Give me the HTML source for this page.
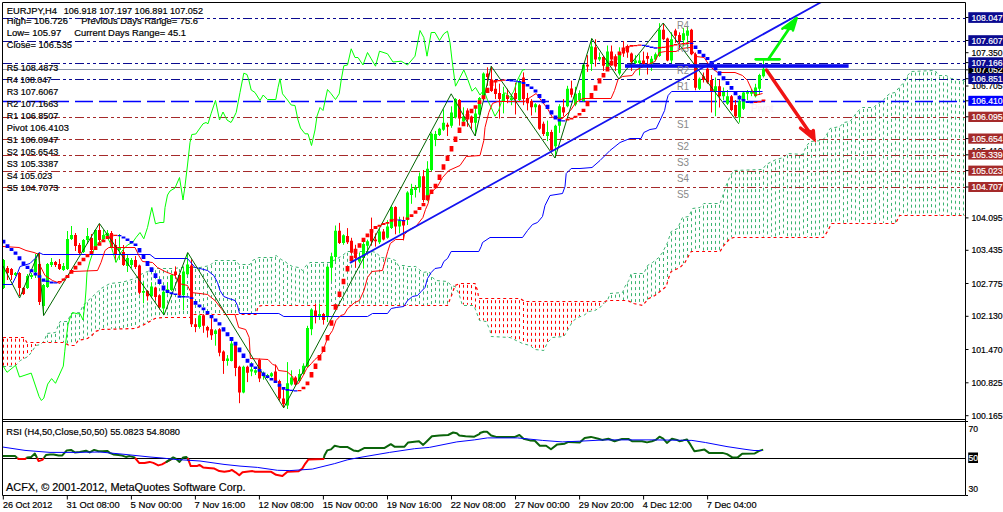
<!DOCTYPE html><html><head><meta charset="utf-8"><style>html,body{margin:0;padding:0;background:#fff}</style></head><body><svg width="1003" height="512" viewBox="0 0 1003 512" style="display:block;font-family:'Liberation Sans',sans-serif">
<rect width="1003" height="512" fill="#fff"/>
<defs><clipPath id="cm"><rect x="3" y="3" width="962.5" height="415.5"/></clipPath><clipPath id="cr"><rect x="3" y="422" width="962.5" height="73"/></clipPath></defs>
<g clip-path="url(#cm)">
<path d="M47.5 334.7V342.1M51.5 334.4V342.1M55.5 333.9V342.1M59.5 324.4V342.1M63.5 322.8V342.1M67.5 322.5V343.8M71.5 315.2V344.5M75.5 314.6V343.7M79.5 314.1V339.5M83.5 306.5V338.7M87.5 302.5V337.9M91.5 298.5V335.4M95.5 295.6V330.4M99.5 291.8V329.4M103.5 288.9V328.9M107.5 286.6V328.8M111.5 285.1V328.7M115.5 284.6V328.6M119.5 284.1V328.6M123.5 282.9V328.5M127.5 281.9V328.4M131.5 281.0V328.3M135.5 279.9V328.0M139.5 277.2V326.0M143.5 274.7V324.0M147.5 272.5V322.0M151.5 271.3V320.0M155.5 270.2V318.2M159.5 270.2V317.5M163.5 270.2V317.0M167.5 270.2V317.0M171.5 270.2V317.0M175.5 270.1V317.0M179.5 269.1V317.0M183.5 269.0V317.0M187.5 269.0V317.0M191.5 269.0V314.9M195.5 269.0V313.5M199.5 269.0V313.5M203.5 268.1V313.5M207.5 267.1V313.5M211.5 265.1V313.5M215.5 262.0V313.5M219.5 262.0V313.5M223.5 262.0V313.5M227.5 262.0V313.5M231.5 262.0V313.5M235.5 262.0V313.5M239.5 266.0V313.5M243.5 266.0V313.5M247.5 266.0V313.5M251.5 263.3V313.5M255.5 260.3V313.5M259.5 259.0V305.3M263.5 258.8V305.0M267.5 258.7V305.0M271.5 258.5V305.0M275.5 256.9V305.0M279.5 259.4V305.0M283.5 262.1V305.0M287.5 264.9V305.0M291.5 267.3V305.0M295.5 268.4V305.0M299.5 269.6V305.0M303.5 270.5V305.0M307.5 265.7V305.0M311.5 264.0V305.0M315.5 263.9V305.0M319.5 263.8V305.0M323.5 263.7V305.0M327.5 263.6V305.0M331.5 262.9V305.0M335.5 261.1V305.0M339.5 258.8V305.0M343.5 255.8V305.0M347.5 252.8V305.0M351.5 252.7V305.0M355.5 252.7V305.0M359.5 252.6V305.0M363.5 252.6V305.0M367.5 252.5V305.0M371.5 252.5V305.0M375.5 253.9V305.0M379.5 257.4V305.0M383.5 258.9V305.0M387.5 259.2V305.0M391.5 260.1V305.0M395.5 262.1V305.0M399.5 266.6V305.0M403.5 266.6V305.0M407.5 268.1V305.0M411.5 268.3V305.0M415.5 268.3V305.0M419.5 271.1V305.0M423.5 273.5V305.0M427.5 272.9V305.0M431.5 277.1V305.0M435.5 281.9V305.0M439.5 282.5V305.0M443.5 282.6V305.0M447.5 282.8V305.0M451.5 286.6V295.0M611.5 295.1V299.6M615.5 294.7V299.8M619.5 294.3V299.9M623.5 291.5V300.1M627.5 283.6V300.2M631.5 275.2V302.2M635.5 275.1V303.5M639.5 274.9V304.1M643.5 274.8V303.5M647.5 266.5V299.5M651.5 264.5V296.8M655.5 261.6V294.6M659.5 258.0V291.0M663.5 252.0V287.8M667.5 244.0V281.4M671.5 232.7V270.6M675.5 231.1V268.9M679.5 225.8V267.2M683.5 218.8V263.1M687.5 218.0V256.8M691.5 212.2V251.2M695.5 209.8V251.2M699.5 209.1V251.1M703.5 205.5V251.0M707.5 205.1V251.0M711.5 205.0V250.9M715.5 204.9V250.8M719.5 204.8V250.8M723.5 194.8V244.9M727.5 183.6V240.3M731.5 175.2V237.1M735.5 171.5V236.5M739.5 171.4V236.5M743.5 171.3V236.5M747.5 171.3V236.5M751.5 171.2V236.5M755.5 171.1V236.5M759.5 171.1V236.6M763.5 169.7V236.6M767.5 165.3V236.6M771.5 163.3V236.6M775.5 161.4V236.6M779.5 159.9V236.6M783.5 158.6V236.6M787.5 155.2V236.6M791.5 155.3V236.6M795.5 155.4V236.6M799.5 155.4V236.6M803.5 153.4V236.7M807.5 146.0V236.7M811.5 142.9V236.7M815.5 142.6V236.7M819.5 142.2V236.7M823.5 140.5V236.5M827.5 134.2V230.4M831.5 129.2V222.9M835.5 128.5V222.9M839.5 127.8V222.9M843.5 124.2V222.9M847.5 123.2V222.9M851.5 120.8V222.9M855.5 115.4V222.9M859.5 111.2V222.9M863.5 109.0V222.9M867.5 108.8V222.9M871.5 108.6V222.9M875.5 106.6V222.9M879.5 103.8V222.9M883.5 101.4V222.9M887.5 96.9V222.9M891.5 94.9V222.9M895.5 93.4V222.9M899.5 88.4V215.6M903.5 84.2V215.4M907.5 76.5V215.4M911.5 72.7V215.4M915.5 72.6V215.4M919.5 72.5V215.4M923.5 72.4V215.4M927.5 72.2V215.4M931.5 72.1V215.4M935.5 72.6V215.4M939.5 76.5V215.4M943.5 76.5V215.4M947.5 77.4V215.4M951.5 80.3V215.4M955.5 80.7V215.4M959.5 81.1V215.4M963.5 81.5V215.4" stroke="#3cb371" stroke-width="1" stroke-dasharray="3 3" fill="none"/>
<path d="M3.5 338.7V365.6M7.5 338.7V365.6M11.5 338.7V365.3M15.5 338.7V364.8M19.5 338.7V360.9M23.5 338.8V358.5M27.5 344.1V356.5M31.5 344.1V351.5M35.5 344.1V345.9M39.5 344.1V344.1M455.5 286.3V286.8M459.5 284.7V295.5M463.5 284.7V304.5M467.5 284.9V304.7M471.5 285.1V304.9M475.5 286.5V309.0M479.5 300.2V320.0M483.5 300.2V320.4M487.5 300.2V323.7M491.5 300.2V335.8M495.5 300.2V335.9M499.5 300.2V336.1M503.5 300.2V336.2M507.5 300.2V336.4M511.5 300.2V337.2M515.5 300.2V339.1M519.5 300.2V341.4M523.5 302.0V343.4M527.5 302.8V344.1M531.5 302.8V345.9M535.5 302.8V349.0M539.5 302.8V349.3M543.5 302.8V349.5M547.5 302.8V342.0M551.5 302.8V338.0M555.5 302.8V336.7M559.5 302.8V336.2M563.5 302.8V335.8M567.5 302.8V329.5M571.5 302.8V322.5M575.5 302.8V318.5M579.5 302.8V316.2M583.5 302.8V314.6M587.5 302.8V311.7M591.5 302.8V310.2M595.5 302.8V309.2M599.5 302.8V306.8M603.5 302.8V303.5" stroke="#ff0000" stroke-width="1" stroke-dasharray="3 3" fill="none"/>
<polyline points="3.1,366.5 9.4,366.5 15.6,365.5 20.3,360.5 28.1,356.5 32.0,351.5 35.9,345.5 40.6,344.5 44.5,340.5 46.9,333.5 55.5,332.5 58.6,324.5 60.2,321.5 67.5,321.5 71.0,313.5 80.0,312.5 82.5,306.5 86.0,302.5 92.5,296.5 96.0,293.5 101.0,288.5 110.0,283.5 120.0,282.5 125.0,281.5 135.0,278.5 142.5,273.5 147.5,271.5 155.0,268.5 175.0,268.5 180.0,267.5 200.0,267.5 210.0,265.5 215.0,260.5 236.2,260.5 238.8,264.5 250.0,264.5 252.5,260.5 258.8,257.5 272.5,257.5 276.2,255.5 281.2,259.5 285.0,261.5 288.8,264.5 292.5,266.5 298.8,267.5 302.5,270.5 306.2,265.5 310.0,262.5 330.0,262.5 337.5,258.5 342.5,255.5 347.5,251.5 371.9,251.5 376.3,252.5 380.7,257.5 390.3,258.5 395.6,260.5 398.2,265.5 404.4,265.5 407.9,266.5 415.8,266.5 419.3,269.5 422.9,272.5 429.0,271.5 432.5,277.5 436.0,280.5 447.5,281.5 451.2,285.5 455.0,286.5 458.8,293.5 462.5,305.5 473.8,305.5 476.2,311.5 479.5,320.5 486.2,321.5 490.0,330.5 491.2,336.5 510.0,337.5 516.2,340.5 522.5,343.5 530.0,345.5 535.0,349.5 543.8,350.5 547.5,342.5 552.5,337.5 563.8,336.5 567.5,330.5 572.5,321.5 577.5,317.5 583.8,315.5 588.8,311.5 595.0,310.5 601.2,306.5 605.0,302.5 607.5,300.5 610.0,293.5 622.5,292.5 625.0,286.5 628.8,280.5 631.2,273.5 643.8,273.5 647.5,265.5 652.5,262.5 658.8,257.5 662.5,252.5 667.5,242.5 671.2,231.5 677.5,228.5 682.5,217.5 688.8,216.5 692.5,208.5 700.0,207.5 703.8,203.5 720.0,203.5 722.5,196.5 726.2,185.5 730.0,176.5 733.8,170.5 762.5,169.5 766.2,164.5 770.0,162.5 776.2,159.5 783.8,157.5 787.5,153.5 802.5,154.5 806.2,146.5 810.0,141.5 822.5,140.5 826.2,135.5 830.0,128.5 840.0,126.5 843.8,122.5 850.0,121.5 853.8,116.5 857.5,111.5 862.5,107.5 873.8,107.5 877.5,103.5 882.5,101.5 886.2,96.5 890.0,93.5 895.0,92.5 900.0,86.5 905.0,81.5 907.5,75.5 911.2,71.5 935.0,70.5 938.8,75.5 946.2,75.5 951.2,78.5 963.8,80.5 965.0,83.5" fill="none" stroke="#3cb371" stroke-width="1" stroke-dasharray="3 3"/>
<polyline points="3.0,337.5 23.4,337.5 27.0,342.5 64.0,342.5 69.0,345.5 75.0,345.5 78.0,340.5 87.5,338.5 92.0,335.5 95.3,331.5 101.5,329.5 135.0,328.5 142.5,325.5 155.0,318.5 162.5,317.5 190.0,317.5 192.5,314.5 256.0,314.5 258.0,306.5 262.0,305.5 447.5,305.5 451.2,296.5 455.0,285.5 460.0,283.5 475.0,283.5 477.5,290.5 478.8,298.5 520.0,298.5 525.0,301.5 605.0,301.5 607.5,300.5 627.5,300.5 633.8,303.5 642.5,305.5 648.8,298.5 655.0,295.5 661.2,290.5 666.2,286.5 668.8,277.5 671.2,271.5 680.0,267.5 685.0,262.5 688.8,255.5 691.2,251.5 720.0,251.5 723.8,245.5 730.0,238.5 733.8,237.5 823.4,237.5 827.4,231.5 831.5,223.5 895.5,223.5 899.6,215.5 965.0,215.5" fill="none" stroke="#ff0000" stroke-width="1.2" stroke-dasharray="3 3"/>
<line x1="3" x2="965" y1="18.5" y2="18.5" stroke="#0a0a90" stroke-width="1.2" stroke-dasharray="9 3 3 3 3 3"/>
<line x1="3" x2="965" y1="41.5" y2="41.5" stroke="#0a0a90" stroke-width="1.2" stroke-dasharray="9 3 3 3 3 3"/>
<line x1="3" x2="965" y1="63.5" y2="63.5" stroke="#0a0a90" stroke-width="1.2" stroke-dasharray="9 3 3 3 3 3"/>
<line x1="3" x2="965" y1="79.5" y2="79.5" stroke="#0a0a90" stroke-width="1.2" stroke-dasharray="9 3 3 3 3 3"/>
<line x1="3" x2="965" y1="69.5" y2="69.5" stroke="#8c96a8" stroke-width="1"/>
<line x1="3" x2="965" y1="101.5" y2="101.5" stroke="#0000ff" stroke-width="1.3" stroke-dasharray="18 6"/>
<line x1="3" x2="965" y1="117.5" y2="117.5" stroke="#a52a2a" stroke-width="1" stroke-dasharray="9 3 3 3 3 3"/>
<line x1="3" x2="965" y1="139.5" y2="139.5" stroke="#a52a2a" stroke-width="1" stroke-dasharray="9 3 3 3 3 3"/>
<line x1="3" x2="965" y1="155.5" y2="155.5" stroke="#a52a2a" stroke-width="1" stroke-dasharray="9 3 3 3 3 3"/>
<line x1="3" x2="965" y1="171.5" y2="171.5" stroke="#a52a2a" stroke-width="1" stroke-dasharray="9 3 3 3 3 3"/>
<line x1="3" x2="965" y1="187.5" y2="187.5" stroke="#a52a2a" stroke-width="1" stroke-dasharray="9 3 3 3 3 3"/>
<path d="M3.5 259.0V289.0M15.5 272.0V276.0M27.5 274.0V289.0M31.5 273.0V279.0M35.5 254.0V278.0M43.5 284.0V315.0M47.5 263.0V288.0M51.5 258.0V267.0M63.5 263.0V271.0M67.5 231.0V270.0M71.5 226.0V240.0M83.5 239.0V253.0M87.5 228.0V244.0M95.5 229.0V248.0M103.5 230.0V240.0M107.5 230.0V239.0M119.5 234.0V260.0M127.5 255.0V272.0M131.5 258.0V268.0M143.5 282.2V303.2M151.5 282.2V297.1M163.5 287.4V313.8M167.5 282.2V293.6M171.5 274.3V290.9M183.5 266.4V310.3M187.5 253.2V275.1M199.5 314.7V328.7M215.5 329.3V345.7M227.5 355.1V365.7M231.5 338.7V361.4M243.5 365.7V393.3M251.5 362.1V376.2M255.5 369.2V375.0M263.5 371.5V379.7M267.5 373.9V378.5M271.5 372.2V377.4M287.5 362.1V409.0M291.5 370.3V385.6M299.5 369.2V382.1M303.5 363.3V375.0M307.5 325.8V368.0M311.5 308.2V335.2M319.5 303.5V319.9M327.5 265.9V322.0M331.5 252.7V280.9M335.5 225.5V261.5M343.5 234.3V244.8M359.5 252.7V263.3M363.5 240.4V268.6M367.5 239.6V251.0M379.5 229.0V244.0M387.5 220.2V238.7M391.5 206.2V229.0M399.5 216.7V233.4M407.5 191.2V225.0M411.5 183.8V203.8M415.5 185.0V197.5M419.5 172.5V192.5M427.5 161.2V201.2M431.5 132.5V171.2M435.5 130.9V146.2M439.5 127.8V136.0M443.5 109.3V130.9M451.5 106.3V127.8M455.5 98.1V118.6M463.5 107.3V122.7M475.5 106.3V136.0M479.5 97.0V115.5M483.5 72.4V99.1M503.5 86.8V113.4M511.5 96.0V105.2M519.5 78.6V101.1M535.5 103.2V112.4M547.5 120.6V141.1M555.5 124.7V157.5M559.5 104.2V132.9M567.5 85.8V107.3M575.5 86.8V106.2M579.5 90.3V101.8M583.5 64.0V101.8M591.5 38.5V71.0M599.5 52.5V61.3M607.5 45.5V68.4M619.5 47.3V75.4M635.5 55.2V64.0M639.5 54.3V75.4M651.5 56.0V71.0M655.5 52.5V61.3M659.5 23.2V56.9M671.5 32.3V63.1M683.5 27.9V46.4M687.5 27.0V49.0M699.5 77.5V90.0M715.5 77.5V116.2M723.5 87.5V100.0M727.5 90.0V105.0M739.5 95.0V122.5M743.5 91.2V110.0M747.5 90.0V100.0M751.5 88.8V96.2M755.5 83.8V97.5M759.5 73.8V95.0M763.5 59.5V77.5" stroke="#00ff00" stroke-width="1" fill="none"/>
<path d="M7.5 266.0V280.0M11.5 268.0V280.0M19.5 272.0V296.0M23.5 287.0V295.0M39.5 253.0V305.0M55.5 261.0V267.0M59.5 259.0V270.0M75.5 233.0V251.0M79.5 243.0V254.0M91.5 234.0V254.0M99.5 224.0V245.0M111.5 231.0V248.0M115.5 239.0V262.0M123.5 245.0V266.0M135.5 256.0V269.0M139.5 264.6V294.5M147.5 290.1V300.6M155.5 286.6V300.6M159.5 294.5V309.4M175.5 266.4V277.8M179.5 274.3V296.2M191.5 259.3V327.0M195.5 318.2V332.2M203.5 314.1V332.8M207.5 325.8V337.5M211.5 317.6V339.9M219.5 328.1V356.3M223.5 350.4V373.9M235.5 343.4V376.2M239.5 365.7V403.2M247.5 365.7V382.1M259.5 358.6V382.1M275.5 364.5V382.1M279.5 379.7V400.8M283.5 387.9V407.9M295.5 376.2V385.6M315.5 303.5V323.4M323.5 312.9V324.6M339.5 222.9V244.0M347.5 228.1V244.0M351.5 237.8V253.6M355.5 244.8V267.7M371.5 217.6V245.7M375.5 233.4V246.6M383.5 229.0V240.4M395.5 206.2V234.3M403.5 216.7V240.4M423.5 170.0V202.5M447.5 122.7V136.0M459.5 99.1V125.7M467.5 108.3V126.8M471.5 115.5V128.8M487.5 67.3V85.8M491.5 66.3V91.9M495.5 81.7V99.1M499.5 83.7V118.6M507.5 88.8V103.2M515.5 82.7V114.5M523.5 72.4V105.2M527.5 92.9V110.4M531.5 99.1V115.5M539.5 104.2V129.8M543.5 121.6V136.0M551.5 129.8V151.4M563.5 99.1V116.5M571.5 80.7V97.4M587.5 55.2V71.9M595.5 39.3V66.6M603.5 56.0V71.0M611.5 45.5V65.7M615.5 54.3V71.0M623.5 41.1V56.9M627.5 44.6V57.8M631.5 52.5V71.0M643.5 51.6V64.8M647.5 52.5V74.5M663.5 23.5V40.2M667.5 37.6V61.3M675.5 28.8V42.9M679.5 32.3V48.1M691.5 28.8V55.2M695.5 52.5V90.3M703.5 72.5V82.5M707.5 67.5V83.8M711.5 75.0V112.5M719.5 80.0V107.5M731.5 95.0V111.2M735.5 100.0V117.5" stroke="#ff0000" stroke-width="1" fill="none"/>
<path d="M2.0 260.0h3V288.0h-3zM14.0 273.0h3V275.0h-3zM26.0 276.0h3V288.0h-3zM30.0 275.0h3V277.0h-3zM34.0 259.0h3V272.0h-3zM42.0 285.0h3V306.0h-3zM46.0 264.0h3V287.0h-3zM50.0 262.0h3V265.0h-3zM62.0 266.0h3V270.0h-3zM66.0 239.0h3V269.0h-3zM70.0 235.0h3V239.0h-3zM82.0 240.0h3V252.0h-3zM86.0 236.0h3V240.0h-3zM94.0 230.0h3V247.0h-3zM102.0 235.0h3V239.0h-3zM106.0 233.0h3V236.0h-3zM118.0 247.0h3V250.0h-3zM126.0 258.0h3V266.0h-3zM130.0 260.0h3V265.0h-3zM142.0 290.9h3V292.7h-3zM150.0 286.6h3V296.2h-3zM162.0 291.8h3V308.5h-3zM166.0 289.2h3V292.7h-3zM170.0 275.1h3V290.1h-3zM182.0 271.6h3V295.3h-3zM186.0 264.6h3V274.3h-3zM198.0 315.5h3V327.0h-3zM214.0 330.5h3V334.0h-3zM226.0 358.6h3V361.0h-3zM230.0 343.4h3V361.0h-3zM242.0 366.8h3V392.6h-3zM250.0 369.2h3V371.5h-3zM254.0 370.3h3V372.7h-3zM262.0 373.9h3V376.2h-3zM266.0 375.0h3V377.4h-3zM270.0 373.2h3V376.2h-3zM286.0 383.2h3V405.5h-3zM290.0 377.4h3V384.4h-3zM298.0 373.9h3V380.9h-3zM302.0 365.7h3V373.9h-3zM306.0 328.1h3V366.8h-3zM310.0 309.4h3V329.3h-3zM318.0 314.1h3V316.4h-3zM326.0 266.8h3V316.4h-3zM330.0 256.3h3V267.7h-3zM334.0 230.8h3V257.1h-3zM342.0 235.2h3V243.1h-3zM358.0 257.1h3V261.5h-3zM362.0 244.0h3V258.0h-3zM366.0 241.3h3V245.7h-3zM378.0 231.6h3V242.2h-3zM386.0 226.4h3V237.8h-3zM390.0 207.0h3V228.1h-3zM398.0 221.1h3V226.4h-3zM406.0 192.5h3V220.0h-3zM410.0 188.8h3V195.0h-3zM414.0 187.5h3V190.0h-3zM418.0 176.2h3V187.5h-3zM426.0 168.8h3V200.0h-3zM430.0 133.8h3V170.0h-3zM434.0 133.9h3V140.1h-3zM438.0 128.8h3V135.0h-3zM442.0 122.7h3V129.8h-3zM450.0 112.4h3V125.7h-3zM454.0 99.1h3V117.5h-3zM462.0 116.5h3V121.6h-3zM474.0 113.4h3V122.7h-3zM478.0 98.1h3V114.5h-3zM482.0 73.5h3V98.1h-3zM502.0 94.0h3V101.1h-3zM510.0 98.1h3V100.1h-3zM518.0 81.7h3V100.1h-3zM534.0 104.2h3V107.3h-3zM546.0 131.9h3V136.0h-3zM554.0 125.7h3V146.2h-3zM558.0 106.3h3V125.7h-3zM566.0 88.8h3V106.3h-3zM574.0 93.8h3V104.4h-3zM578.0 93.0h3V100.0h-3zM582.0 64.8h3V100.9h-3zM590.0 46.4h3V64.0h-3zM598.0 56.9h3V59.6h-3zM606.0 51.6h3V67.5h-3zM618.0 54.3h3V73.6h-3zM634.0 60.4h3V63.1h-3zM638.0 60.4h3V63.1h-3zM650.0 58.7h3V64.0h-3zM654.0 54.3h3V59.6h-3zM658.0 29.7h3V56.0h-3zM670.0 39.3h3V60.4h-3zM682.0 33.2h3V40.2h-3zM686.0 30.5h3V35.8h-3zM698.0 78.8h3V88.8h-3zM714.0 86.2h3V91.2h-3zM722.0 91.2h3V96.2h-3zM726.0 96.2h3V103.8h-3zM738.0 101.2h3V117.5h-3zM742.0 92.5h3V108.8h-3zM746.0 91.2h3V93.8h-3zM750.0 91.2h3V93.8h-3zM754.0 87.5h3V96.2h-3zM758.0 75.0h3V88.8h-3zM762.0 68.8h3V76.2h-3z" fill="#00ff00"/>
<path d="M6.0 268.0h3V273.0h-3zM10.0 269.0h3V275.0h-3zM18.0 273.0h3V288.0h-3zM22.0 288.0h3V294.0h-3zM38.0 264.0h3V302.0h-3zM54.0 262.0h3V265.0h-3zM58.0 264.0h3V269.0h-3zM74.0 235.0h3V246.0h-3zM78.0 245.0h3V253.0h-3zM90.0 238.0h3V250.0h-3zM98.0 230.0h3V240.0h-3zM110.0 233.0h3V247.0h-3zM114.0 245.0h3V255.0h-3zM122.0 252.0h3V265.0h-3zM134.0 260.0h3V267.0h-3zM138.0 265.5h3V292.7h-3zM146.0 290.9h3V296.2h-3zM154.0 287.4h3V297.1h-3zM158.0 295.3h3V307.6h-3zM174.0 271.6h3V275.1h-3zM178.0 275.1h3V295.3h-3zM190.0 265.5h3V324.3h-3zM194.0 324.3h3V327.0h-3zM202.0 315.2h3V325.8h-3zM206.0 327.0h3V330.5h-3zM210.0 329.3h3V335.2h-3zM218.0 329.3h3V352.8h-3zM222.0 351.6h3V361.0h-3zM234.0 344.5h3V368.0h-3zM238.0 366.8h3V392.6h-3zM246.0 366.8h3V372.7h-3zM258.0 359.8h3V378.5h-3zM274.0 371.5h3V380.9h-3zM278.0 380.9h3V398.5h-3zM282.0 398.5h3V404.3h-3zM294.0 377.4h3V384.4h-3zM314.0 310.6h3V316.4h-3zM322.0 314.1h3V319.9h-3zM338.0 230.8h3V243.1h-3zM346.0 236.0h3V242.2h-3zM350.0 240.8h3V252.7h-3zM354.0 251.0h3V258.0h-3zM370.0 229.9h3V241.3h-3zM374.0 239.6h3V241.3h-3zM382.0 231.6h3V239.6h-3zM394.0 207.0h3V226.4h-3zM402.0 221.1h3V225.5h-3zM422.0 176.2h3V200.0h-3zM446.0 124.7h3V126.8h-3zM458.0 100.1h3V118.6h-3zM466.0 110.4h3V116.5h-3zM470.0 116.5h3V122.7h-3zM486.0 73.5h3V77.1h-3zM490.0 79.6h3V90.9h-3zM494.0 88.8h3V94.0h-3zM498.0 92.9h3V99.1h-3zM506.0 95.0h3V99.1h-3zM514.0 92.9h3V99.1h-3zM522.0 77.6h3V99.1h-3zM526.0 98.1h3V103.2h-3zM530.0 101.1h3V107.3h-3zM538.0 105.2h3V128.8h-3zM542.0 123.7h3V133.9h-3zM550.0 131.9h3V150.3h-3zM562.0 107.3h3V112.4h-3zM570.0 88.6h3V94.7h-3zM586.0 64.8h3V66.6h-3zM594.0 47.3h3V59.6h-3zM602.0 56.9h3V65.7h-3zM610.0 51.6h3V59.6h-3zM614.0 58.7h3V66.6h-3zM622.0 50.2h3V53.4h-3zM626.0 46.4h3V52.5h-3zM630.0 53.4h3V62.2h-3zM642.0 60.4h3V64.0h-3zM646.0 56.0h3V58.7h-3zM662.0 29.7h3V39.3h-3zM666.0 38.5h3V60.4h-3zM674.0 30.5h3V35.8h-3zM678.0 34.9h3V41.1h-3zM690.0 29.7h3V54.3h-3zM694.0 54.3h3V87.7h-3zM702.0 76.2h3V80.0h-3zM706.0 68.8h3V82.5h-3zM710.0 80.0h3V91.2h-3zM718.0 86.2h3V96.2h-3zM730.0 96.2h3V110.0h-3zM734.0 105.0h3V116.2h-3z" fill="#ff0000"/>
<polyline points="3.1,366.1 7.0,372.3 15.6,365.3 19.5,377.0 31.2,373.1 39.1,396.6 41.4,400.5 43.8,398.1 47.7,384.1 51.6,378.6 55.5,383.3 63.3,366.1 64.8,351.2 65.6,343.4 68.0,324.7 70.0,318.0 72.5,312.5 77.5,313.8 80.0,313.6 83.0,320.0 85.0,303.0 86.0,290.0 87.0,272.5 90.0,261.0 93.8,250.0 98.0,243.8 102.5,240.0 105.5,233.8 110.0,242.5 113.0,252.5 116.0,262.5 120.0,253.8 123.8,248.8 127.5,245.0 132.5,242.5 136.0,237.5 140.0,232.5 143.8,238.8 147.5,227.5 151.8,207.5 155.5,223.8 160.0,222.5 163.8,222.5 165.0,207.5 167.5,195.0 170.0,191.0 175.0,188.0 179.5,177.5 183.0,200.0 185.0,186.0 187.5,165.0 190.0,142.5 191.8,134.5 195.8,134.0 203.0,123.8 206.0,122.5 208.0,123.8 211.0,113.8 215.5,100.5 219.5,120.0 223.0,112.0 227.0,120.0 231.0,122.5 232.5,120.0 236.2,112.5 240.0,92.5 243.8,73.2 247.0,74.5 248.8,80.0 251.2,90.0 255.0,92.5 260.0,100.5 263.2,95.0 267.5,99.5 275.8,99.5 278.0,87.5 280.0,78.8 282.5,93.8 287.5,100.0 291.2,105.0 295.0,105.5 298.0,120.0 300.5,128.0 305.0,133.8 308.0,133.8 311.5,145.5 315.0,130.0 317.0,116.2 320.0,107.5 323.0,110.5 327.5,89.5 331.2,93.8 335.5,99.5 339.2,93.8 341.2,80.0 343.8,65.8 347.5,65.0 351.2,48.8 355.0,57.5 358.0,57.5 363.0,65.0 367.5,52.5 371.2,58.8 375.5,66.2 379.5,51.2 387.5,53.8 393.0,62.0 401.2,61.2 407.5,65.0 415.0,56.2 420.0,30.5 423.8,37.5 427.0,56.2 431.2,32.5 435.0,32.5 439.5,40.5 443.8,33.8 447.5,31.2 450.0,42.5 452.0,60.0 455.5,86.2 460.0,77.5 463.8,70.0 467.5,78.8 472.0,91.2 475.5,87.5 480.0,95.0 483.8,90.0 487.5,100.0 491.2,107.5 495.0,116.2 498.8,110.0 501.2,102.5 505.0,92.5 510.0,97.5 513.8,91.2 517.5,80.0 522.5,70.0 525.0,69.5" fill="none" stroke="#00ff00" stroke-width="1"/>
<polyline points="2.0,284.5 12.0,284.5 17.0,274.5 20.0,266.5 30.0,263.5 35.0,258.5 39.0,252.5 43.0,254.5 43.8,254.5 150.0,254.5 155.0,258.5 187.5,258.5 190.0,261.5 195.0,267.5 200.0,268.5 207.5,270.5 213.8,275.5 217.5,282.5 220.0,290.5 223.8,296.5 228.8,298.5 235.0,300.5 237.5,305.5 239.5,313.5 278.8,313.5 283.8,316.5 367.5,316.5 372.5,313.5 387.5,313.5 391.2,308.5 396.2,307.5 403.8,306.5 407.5,300.5 412.5,296.5 417.5,295.5 421.2,291.5 425.0,287.5 427.5,278.5 431.2,272.5 435.0,268.5 441.2,267.5 443.8,261.5 447.5,258.5 451.2,251.5 478.8,251.5 481.2,246.5 482.5,242.5 490.0,237.5 522.5,237.5 527.5,230.5 532.5,224.5 537.5,222.5 542.5,216.5 545.0,205.5 550.0,195.5 562.5,193.5 565.0,186.5 566.2,173.5 571.2,168.5 580.0,168.5 592.0,167.5 600.0,160.5 610.0,150.5 620.0,142.5 630.0,138.5 641.0,138.5 643.8,132.5 650.0,129.5 656.2,128.5 660.0,120.5 664.6,110.5 666.4,101.5 668.1,95.5 671.6,91.5 762.5,91.5" fill="none" stroke="#0000ff" stroke-width="1"/>
<polyline points="3.0,246.5 19.0,247.5 26.0,250.5 34.0,252.5 39.0,254.5 40.0,266.5 40.0,265.5 45.0,275.5 52.5,280.5 60.0,283.5 65.0,277.5 72.5,271.5 97.5,270.5 101.0,262.5 105.0,250.5 108.8,247.5 135.0,247.5 138.8,255.5 142.5,261.5 152.5,262.5 157.5,267.5 165.0,271.5 175.0,275.5 178.8,283.5 187.5,285.5 191.0,292.5 200.0,293.5 207.5,294.5 215.0,300.5 221.2,308.5 226.2,314.5 235.0,314.5 238.7,327.5 245.7,329.5 249.2,337.5 250.4,358.5 268.0,359.5 272.7,364.5 276.2,365.5 278.5,370.5 286.8,371.5 292.6,376.5 295.0,384.5 298.5,383.5 303.2,375.5 306.7,368.5 311.4,363.5 314.9,359.5 321.9,353.5 327.8,337.5 332.5,330.5 336.0,320.5 340.7,315.5 344.2,314.5 347.7,308.5 354.7,302.5 359.4,300.5 364.0,290.5 367.5,277.5 371.9,271.5 382.4,270.5 385.0,261.5 387.7,251.5 390.3,243.5 395.6,239.5 403.5,239.5 404.4,234.5 409.7,229.5 415.8,226.5 422.9,217.5 425.5,209.5 428.1,203.5 430.0,193.5 437.5,186.5 442.5,177.5 448.8,170.5 460.0,165.5 466.2,156.5 480.0,155.5 483.8,140.5 485.0,127.5 488.8,112.5 492.5,103.5 497.5,101.5 525.0,101.5 530.0,97.5 536.2,93.5 541.2,100.5 547.5,108.5 552.5,117.5 562.5,118.5 570.5,110.5 575.8,102.5 582.9,98.5 611.0,98.5 614.5,90.5 618.0,79.5 622.4,76.5 632.1,75.5 635.6,70.5 639.1,68.5 654.9,61.5 659.3,52.5 665.5,51.5 676.0,51.5 681.3,48.5 690.1,47.5 696.3,56.5 704.2,57.5 710.0,66.5 717.5,72.5 735.0,72.5 742.5,75.5 747.5,80.5 751.2,88.5 755.0,95.5 762.5,93.5" fill="none" stroke="#ff0000" stroke-width="1"/>
<polyline points="3.0,266.0 19.6,298.0 38.5,253.0 43.6,315.6 99.4,223.4 164.0,315.0 187.7,252.5 283.7,407.9 451.2,93.8 475.2,136.0 491.2,66.2 555.0,158.0 591.8,38.5 618.9,79.0 663.2,23.0 738.8,123.8" fill="none" stroke="#006400" stroke-width="1"/>
<path d="M1.6 239.8h3.8v3.7h-3.8zM5.6 244.2h3.8v3.7h-3.8zM9.6 247.9h3.8v3.0h-3.8zM13.6 251.5h3.8v3.2h-3.8zM17.6 256.2h3.8v4.1h-3.8zM21.6 261.4h3.8v4.1h-3.8zM25.6 265.7h3.8v3.4h-3.8zM29.6 269.3h3.8v3.0h-3.8zM33.6 272.5h3.8v2.9h-3.8zM37.6 275.2h3.8v2.6h-3.8zM41.6 278.5h3.8v3.2h-3.8zM45.6 280.4h3.8v1.6h-3.8zM49.6 281.6h3.8v1.8h-3.8zM53.6 282.2h3.8v1.3h-3.8zM117.6 235.0h3.8v1.3h-3.8zM121.6 236.5h3.8v2.1h-3.8zM125.6 238.6h3.8v2.3h-3.8zM129.6 241.0h3.8v2.5h-3.8zM133.6 243.5h3.8v2.4h-3.8zM137.6 248.1h3.8v4.4h-3.8zM141.6 254.3h3.8v4.8h-3.8zM145.6 261.0h3.8v5.1h-3.8zM149.6 267.3h3.8v4.6h-3.8zM153.6 273.3h3.8v4.6h-3.8zM157.6 279.3h3.8v4.7h-3.8zM161.6 285.6h3.8v4.8h-3.8zM165.6 290.0h3.8v3.1h-3.8zM169.6 292.2h3.8v2.0h-3.8zM173.6 293.4h3.8v1.6h-3.8zM177.6 295.4h3.8v2.4h-3.8zM181.6 296.1h3.8v1.3h-3.8zM185.6 296.3h3.8v1.3h-3.8zM189.6 297.3h3.8v1.7h-3.8zM193.6 300.9h3.8v3.8h-3.8zM197.6 304.4h3.8v2.8h-3.8zM201.6 307.4h3.8v2.8h-3.8zM205.6 311.0h3.8v3.3h-3.8zM209.6 314.9h3.8v3.3h-3.8zM213.6 318.5h3.8v3.2h-3.8zM217.6 322.3h3.8v3.3h-3.8zM221.6 327.3h3.8v4.2h-3.8zM225.6 332.3h3.8v4.0h-3.8zM229.6 337.1h3.8v3.8h-3.8zM233.6 341.8h3.8v3.8h-3.8zM237.6 347.6h3.8v4.7h-3.8zM241.6 353.5h3.8v4.5h-3.8zM245.6 358.7h3.8v4.0h-3.8zM249.6 363.2h3.8v3.6h-3.8zM253.6 366.5h3.8v2.6h-3.8zM257.6 369.1h3.8v2.6h-3.8zM261.6 372.6h3.8v3.3h-3.8zM265.6 375.5h3.8v2.4h-3.8zM269.6 377.9h3.8v2.5h-3.8zM273.6 380.4h3.8v2.5h-3.8zM277.6 383.7h3.8v3.1h-3.8zM281.6 386.9h3.8v2.8h-3.8zM285.6 388.9h3.8v1.9h-3.8zM289.6 389.8h3.8v1.3h-3.8zM293.6 390.3h3.8v1.3h-3.8zM397.6 219.4h3.8v1.3h-3.8zM401.6 219.9h3.8v1.3h-3.8zM505.6 79.8h3.8v1.3h-3.8zM509.6 80.1h3.8v1.3h-3.8zM513.6 80.4h3.8v1.3h-3.8zM517.6 81.0h3.8v1.4h-3.8zM521.6 82.1h3.8v1.8h-3.8zM525.6 84.1h3.8v2.3h-3.8zM529.6 86.5h3.8v2.5h-3.8zM533.6 89.6h3.8v3.0h-3.8zM537.6 94.0h3.8v3.9h-3.8zM541.6 99.1h3.8v4.1h-3.8zM545.6 104.7h3.8v4.4h-3.8zM549.6 110.2h3.8v4.2h-3.8zM553.6 115.4h3.8v4.0h-3.8zM557.6 118.9h3.8v2.7h-3.8zM561.6 120.2h3.8v1.4h-3.8zM641.6 44.8h3.8v1.3h-3.8zM645.6 45.6h3.8v1.5h-3.8zM649.6 46.4h3.8v1.5h-3.8zM653.6 47.3h3.8v1.5h-3.8zM689.6 42.7h3.8v1.3h-3.8zM693.6 45.6h3.8v3.3h-3.8zM697.6 50.0h3.8v3.7h-3.8zM701.6 53.8h3.8v3.1h-3.8zM705.6 57.1h3.8v2.9h-3.8zM709.6 61.1h3.8v3.7h-3.8zM713.6 66.1h3.8v4.1h-3.8zM717.6 71.3h3.8v4.1h-3.8zM721.6 76.3h3.8v4.0h-3.8zM725.6 81.2h3.8v3.9h-3.8zM729.6 85.9h3.8v3.8h-3.8zM733.6 91.0h3.8v4.2h-3.8zM737.6 95.8h3.8v3.7h-3.8zM741.6 99.0h3.8v2.5h-3.8zM745.6 101.0h3.8v2.1h-3.8zM749.6 101.9h3.8v1.4h-3.8z" fill="#0000ff"/>
<path d="M57.6 280.9h3.8v1.7h-3.8zM61.6 278.5h3.8v2.3h-3.8zM65.6 275.0h3.8v2.9h-3.8zM69.6 270.1h3.8v3.7h-3.8zM73.6 265.7h3.8v3.7h-3.8zM77.6 261.8h3.8v3.4h-3.8zM81.6 257.8h3.8v3.4h-3.8zM85.6 254.0h3.8v3.3h-3.8zM89.6 251.0h3.8v2.9h-3.8zM93.6 246.3h3.8v3.6h-3.8zM97.6 242.3h3.8v3.4h-3.8zM101.6 239.5h3.8v2.8h-3.8zM105.6 235.9h3.8v3.1h-3.8zM109.6 234.3h3.8v2.2h-3.8zM113.6 234.7h3.8v1.3h-3.8zM297.6 389.9h3.8v1.3h-3.8zM301.6 386.8h3.8v2.5h-3.8zM305.6 381.4h3.8v3.9h-3.8zM309.6 371.9h3.8v5.5h-3.8zM313.6 363.6h3.8v5.5h-3.8zM317.6 354.9h3.8v5.5h-3.8zM321.6 346.5h3.8v5.5h-3.8zM325.6 335.1h3.8v5.5h-3.8zM329.6 320.2h3.8v5.5h-3.8zM333.6 304.2h3.8v5.5h-3.8zM337.6 291.5h3.8v5.5h-3.8zM341.6 278.8h3.8v5.5h-3.8zM345.6 266.0h3.8v5.5h-3.8zM349.6 255.8h3.8v5.5h-3.8zM353.6 248.7h3.8v5.3h-3.8zM357.6 243.2h3.8v4.6h-3.8zM361.6 237.8h3.8v4.3h-3.8zM365.6 233.6h3.8v3.7h-3.8zM369.6 228.9h3.8v3.8h-3.8zM373.6 226.0h3.8v3.0h-3.8zM377.6 224.7h3.8v2.1h-3.8zM381.6 223.0h3.8v2.0h-3.8zM385.6 222.1h3.8v1.6h-3.8zM389.6 219.2h3.8v2.5h-3.8zM393.6 218.8h3.8v1.5h-3.8zM405.6 217.6h3.8v2.2h-3.8zM409.6 214.3h3.8v2.8h-3.8zM413.6 210.6h3.8v3.1h-3.8zM417.6 206.9h3.8v3.2h-3.8zM421.6 203.0h3.8v3.3h-3.8zM425.6 195.2h3.8v5.1h-3.8zM429.6 189.5h3.8v4.6h-3.8zM433.6 183.7h3.8v4.5h-3.8zM437.6 174.6h3.8v5.5h-3.8zM441.6 164.2h3.8v5.5h-3.8zM445.6 155.6h3.8v5.5h-3.8zM449.6 146.1h3.8v5.5h-3.8zM453.6 136.6h3.8v5.5h-3.8zM457.6 127.4h3.8v5.5h-3.8zM461.6 121.7h3.8v4.6h-3.8zM465.6 114.0h3.8v5.4h-3.8zM469.6 108.8h3.8v4.4h-3.8zM473.6 105.2h3.8v3.5h-3.8zM477.6 100.2h3.8v3.9h-3.8zM481.6 95.2h3.8v4.0h-3.8zM485.6 87.8h3.8v5.1h-3.8zM489.6 81.0h3.8v5.1h-3.8zM493.6 80.0h3.8v2.4h-3.8zM497.6 79.9h3.8v1.4h-3.8zM501.6 79.4h3.8v1.3h-3.8zM565.6 118.8h3.8v1.7h-3.8zM569.6 117.8h3.8v1.6h-3.8zM573.6 115.7h3.8v2.1h-3.8zM577.6 113.1h3.8v2.4h-3.8zM581.6 108.7h3.8v3.4h-3.8zM585.6 101.1h3.8v5.1h-3.8zM589.6 93.0h3.8v5.5h-3.8zM593.6 85.3h3.8v5.5h-3.8zM597.6 78.2h3.8v5.3h-3.8zM601.6 73.1h3.8v4.3h-3.8zM605.6 66.8h3.8v4.7h-3.8zM609.6 60.8h3.8v4.6h-3.8zM613.6 56.2h3.8v4.0h-3.8zM617.6 51.5h3.8v3.8h-3.8zM621.6 47.6h3.8v3.4h-3.8zM625.6 46.0h3.8v2.3h-3.8zM629.6 45.0h3.8v1.8h-3.8zM633.6 44.9h3.8v1.3h-3.8zM637.6 44.5h3.8v1.3h-3.8zM657.6 47.1h3.8v1.3h-3.8zM661.6 46.8h3.8v1.3h-3.8zM665.6 46.1h3.8v1.4h-3.8zM669.6 44.9h3.8v1.6h-3.8zM673.6 43.9h3.8v1.6h-3.8zM677.6 43.5h3.8v1.3h-3.8zM681.6 43.1h3.8v1.3h-3.8zM685.6 42.6h3.8v1.3h-3.8zM753.6 101.8h3.8v1.3h-3.8zM757.6 101.0h3.8v1.4h-3.8zM761.6 99.6h3.8v1.7h-3.8z" fill="#ff0000"/>
<line x1="350.5" y1="262.6" x2="820.5" y2="2.5" stroke="#1414f0" stroke-width="1.8" stroke-linecap="round"/>
<rect x="625" y="64.2" width="223.6" height="3.6" fill="#0a0aee"/>
<g stroke="#05f505" stroke-width="2.8" fill="none" stroke-linecap="round"><path d="M755.8 59.3H779.5"/><path d="M768.5 59 L796 18.5"/><path d="M782.3 28.8 L796.8 18 L793 30.5" fill="#05f505" stroke-linejoin="round" stroke-width="2.4"/></g>
<g stroke="#f01414" stroke-width="3.4" fill="none" stroke-linecap="round"><path d="M766.5 70 L813 137.5"/><path d="M800.5 128 L814 139 L813.3 130.5" stroke-linejoin="miter" fill="#f01414"/></g>
<text x="677" y="28.7" font-size="10.2" fill="#888" textLength="12" lengthAdjust="spacingAndGlyphs">R4</text>
<text x="677" y="51.6" font-size="10.2" fill="#888" textLength="12" lengthAdjust="spacingAndGlyphs">R3</text>
<text x="677" y="73.7" font-size="10.2" fill="#888" textLength="12" lengthAdjust="spacingAndGlyphs">R2</text>
<text x="677" y="89.8" font-size="10.2" fill="#888" textLength="12" lengthAdjust="spacingAndGlyphs">R1</text>
<text x="677" y="127.7" font-size="10.2" fill="#888" textLength="12" lengthAdjust="spacingAndGlyphs">S1</text>
<text x="677" y="149.6" font-size="10.2" fill="#888" textLength="12" lengthAdjust="spacingAndGlyphs">S2</text>
<text x="677" y="165.7" font-size="10.2" fill="#888" textLength="12" lengthAdjust="spacingAndGlyphs">S3</text>
<text x="677" y="181.7" font-size="10.2" fill="#888" textLength="12" lengthAdjust="spacingAndGlyphs">S4</text>
<text x="677" y="197.7" font-size="10.2" fill="#888" textLength="12" lengthAdjust="spacingAndGlyphs">S5</text>
<text x="751" y="111.6" font-size="10.2" fill="#fbeef4">Pivot</text>
</g>
<text x="6.75" y="13.75" font-size="8.6" fill="#000" stroke="#000" stroke-width="0.18" textLength="50.2" lengthAdjust="spacingAndGlyphs">EURJPY,H4</text>
<text x="63.75" y="13.75" font-size="8.6" fill="#000" stroke="#000" stroke-width="0.18" textLength="139.2" lengthAdjust="spacingAndGlyphs">106.918 107.197 106.891 107.052</text>
<text x="6.75" y="23.75" font-size="8.6" fill="#000" stroke="#000" stroke-width="0.18" textLength="61.2" lengthAdjust="spacingAndGlyphs">High= 106.726</text>
<text x="81.25" y="23.75" font-size="8.6" fill="#000" stroke="#000" stroke-width="0.18" textLength="116.8" lengthAdjust="spacingAndGlyphs">Previous Days Range= 75.6</text>
<text x="6.75" y="35.75" font-size="8.6" fill="#000" stroke="#000" stroke-width="0.18" textLength="54.5" lengthAdjust="spacingAndGlyphs">Low= 105.97</text>
<text x="74.25" y="35.75" font-size="8.6" fill="#000" stroke="#000" stroke-width="0.18" textLength="111.8" lengthAdjust="spacingAndGlyphs">Current Days Range= 45.1</text>
<text x="6.75" y="47.60" font-size="8.6" fill="#000" stroke="#000" stroke-width="0.18" textLength="65.2" lengthAdjust="spacingAndGlyphs">Close= 106.535</text>
<text x="6.75" y="71.30" font-size="8.6" fill="#000" stroke="#000" stroke-width="0.18" textLength="51.5" lengthAdjust="spacingAndGlyphs">R5 108.4873</text>
<text x="6.75" y="83.30" font-size="8.6" fill="#000" stroke="#000" stroke-width="0.18" textLength="44.9" lengthAdjust="spacingAndGlyphs">R4 108.047</text>
<text x="6.75" y="95.40" font-size="8.6" fill="#000" stroke="#000" stroke-width="0.18" textLength="51.5" lengthAdjust="spacingAndGlyphs">R3 107.6067</text>
<text x="6.75" y="107.40" font-size="8.6" fill="#000" stroke="#000" stroke-width="0.18" textLength="51.5" lengthAdjust="spacingAndGlyphs">R2 107.1663</text>
<text x="6.75" y="119.40" font-size="8.6" fill="#000" stroke="#000" stroke-width="0.18" textLength="51.5" lengthAdjust="spacingAndGlyphs">R1 106.8507</text>
<text x="6.75" y="131.40" font-size="8.6" fill="#000" stroke="#000" stroke-width="0.18" textLength="62.2" lengthAdjust="spacingAndGlyphs">Pivot 106.4103</text>
<text x="6.75" y="143.40" font-size="8.6" fill="#000" stroke="#000" stroke-width="0.18" textLength="51.5" lengthAdjust="spacingAndGlyphs">S1 106.0947</text>
<text x="6.75" y="155.40" font-size="8.6" fill="#000" stroke="#000" stroke-width="0.18" textLength="51.5" lengthAdjust="spacingAndGlyphs">S2 105.6543</text>
<text x="6.75" y="167.40" font-size="8.6" fill="#000" stroke="#000" stroke-width="0.18" textLength="51.5" lengthAdjust="spacingAndGlyphs">S3 105.3387</text>
<text x="6.75" y="179.40" font-size="8.6" fill="#000" stroke="#000" stroke-width="0.18" textLength="45.5" lengthAdjust="spacingAndGlyphs">S4 105.023</text>
<text x="6.75" y="191.40" font-size="8.6" fill="#000" stroke="#000" stroke-width="0.18" textLength="51.5" lengthAdjust="spacingAndGlyphs">S5 104.7073</text>
<g fill="none" stroke="#000" stroke-width="1">
<path d="M2.5 2.5H965.5V495.5H2.5Z"/>
<path d="M2.5 419.5H965.5M2.5 421.5H968"/>
</g>
<path d="M965.5 52.7h3" stroke="#000"/>
<text x="971.40" y="55.80" font-size="8.6" fill="#000" stroke="#000" stroke-width="0.18" textLength="31.3" lengthAdjust="spacingAndGlyphs">107.350</text>
<path d="M965.5 86.0h3" stroke="#000"/>
<text x="971.40" y="89.10" font-size="8.6" fill="#000" stroke="#000" stroke-width="0.18" textLength="31.3" lengthAdjust="spacingAndGlyphs">106.705</text>
<path d="M965.5 217.9h3" stroke="#000"/>
<text x="971.40" y="221.00" font-size="8.6" fill="#000" stroke="#000" stroke-width="0.18" textLength="31.3" lengthAdjust="spacingAndGlyphs">104.095</text>
<path d="M965.5 250.3h3" stroke="#000"/>
<text x="971.40" y="253.40" font-size="8.6" fill="#000" stroke="#000" stroke-width="0.18" textLength="31.3" lengthAdjust="spacingAndGlyphs">103.435</text>
<path d="M965.5 283.5h3" stroke="#000"/>
<text x="971.40" y="286.60" font-size="8.6" fill="#000" stroke="#000" stroke-width="0.18" textLength="31.3" lengthAdjust="spacingAndGlyphs">102.775</text>
<path d="M965.5 316.3h3" stroke="#000"/>
<text x="971.40" y="319.40" font-size="8.6" fill="#000" stroke="#000" stroke-width="0.18" textLength="31.3" lengthAdjust="spacingAndGlyphs">102.130</text>
<path d="M965.5 349.5h3" stroke="#000"/>
<text x="971.40" y="352.60" font-size="8.6" fill="#000" stroke="#000" stroke-width="0.18" textLength="31.3" lengthAdjust="spacingAndGlyphs">101.470</text>
<path d="M965.5 382.8h3" stroke="#000"/>
<text x="971.40" y="385.90" font-size="8.6" fill="#000" stroke="#000" stroke-width="0.18" textLength="31.3" lengthAdjust="spacingAndGlyphs">100.825</text>
<path d="M965.5 415.7h3" stroke="#000"/>
<text x="971.40" y="418.80" font-size="8.6" fill="#000" stroke="#000" stroke-width="0.18" textLength="31.3" lengthAdjust="spacingAndGlyphs">100.165</text>
<text x="971.40" y="154.10" font-size="8.6" fill="#000" stroke="#000" stroke-width="0.18" textLength="31.3" lengthAdjust="spacingAndGlyphs">105.410</text>
<rect x="968.3" y="65.5" width="40" height="8.5" fill="#000"/>
<text x="971.40" y="72.95" font-size="8.6" fill="#fff" stroke="#fff" stroke-width="0.18" textLength="31.3" lengthAdjust="spacingAndGlyphs">107.052</text>
<path d="M965.5 69.8h3" stroke="#000"/>
<rect x="968.3" y="12.2" width="40" height="10.7" fill="#0a0a90"/>
<text x="971.40" y="20.75" font-size="8.6" fill="#fff" stroke="#fff" stroke-width="0.18" textLength="31.3" lengthAdjust="spacingAndGlyphs">108.047</text>
<path d="M965.5 17.5h3" stroke="#000"/>
<rect x="968.3" y="35.2" width="40" height="10.7" fill="#0a0a90"/>
<text x="971.40" y="43.75" font-size="8.6" fill="#fff" stroke="#fff" stroke-width="0.18" textLength="31.3" lengthAdjust="spacingAndGlyphs">107.607</text>
<path d="M965.5 40.5h3" stroke="#000"/>
<rect x="968.3" y="57.3" width="40" height="10.7" fill="#0a0a90"/>
<text x="971.40" y="65.85" font-size="8.6" fill="#fff" stroke="#fff" stroke-width="0.18" textLength="31.3" lengthAdjust="spacingAndGlyphs">107.166</text>
<path d="M965.5 62.6h3" stroke="#000"/>
<rect x="968.3" y="73.3" width="40" height="10.7" fill="#0a0a90"/>
<text x="971.40" y="81.85" font-size="8.6" fill="#fff" stroke="#fff" stroke-width="0.18" textLength="31.3" lengthAdjust="spacingAndGlyphs">106.851</text>
<path d="M965.5 78.7h3" stroke="#000"/>
<rect x="968.3" y="95.8" width="40" height="10.0" fill="#0000ff"/>
<text x="971.40" y="104.00" font-size="8.6" fill="#fff" stroke="#fff" stroke-width="0.18" textLength="31.3" lengthAdjust="spacingAndGlyphs">106.410</text>
<path d="M965.5 100.8h3" stroke="#000"/>
<rect x="968.3" y="111.7" width="40" height="10.3" fill="#a52a2a"/>
<text x="971.40" y="120.05" font-size="8.6" fill="#fff" stroke="#fff" stroke-width="0.18" textLength="31.3" lengthAdjust="spacingAndGlyphs">106.095</text>
<path d="M965.5 116.8h3" stroke="#000"/>
<rect x="968.3" y="133.5" width="40" height="10.2" fill="#a52a2a"/>
<text x="971.40" y="141.80" font-size="8.6" fill="#fff" stroke="#fff" stroke-width="0.18" textLength="31.3" lengthAdjust="spacingAndGlyphs">105.654</text>
<path d="M965.5 138.6h3" stroke="#000"/>
<rect x="968.3" y="149.9" width="40" height="9.7" fill="#a52a2a"/>
<text x="971.40" y="157.95" font-size="8.6" fill="#fff" stroke="#fff" stroke-width="0.18" textLength="31.3" lengthAdjust="spacingAndGlyphs">105.339</text>
<path d="M965.5 154.8h3" stroke="#000"/>
<rect x="968.3" y="165.6" width="40" height="10.1" fill="#a52a2a"/>
<text x="971.40" y="173.85" font-size="8.6" fill="#fff" stroke="#fff" stroke-width="0.18" textLength="31.3" lengthAdjust="spacingAndGlyphs">105.023</text>
<path d="M965.5 170.6h3" stroke="#000"/>
<rect x="968.3" y="182.0" width="40" height="10.0" fill="#a52a2a"/>
<text x="971.40" y="190.20" font-size="8.6" fill="#fff" stroke="#fff" stroke-width="0.18" textLength="31.3" lengthAdjust="spacingAndGlyphs">104.707</text>
<path d="M965.5 187.0h3" stroke="#000"/>
<g clip-path="url(#cr)">
<line x1="3" x2="965" y1="458.5" y2="458.5" stroke="#000" stroke-width="1"/>
<polyline points="2.5,456.1 15.0,456.1 17.3,458.0" fill="none" stroke="#0a640a" stroke-width="2" stroke-linejoin="round"/>
<polyline points="17.3,458.0 18.7,459.1 24.9,459.1 26.5,458.0" fill="none" stroke="#f00" stroke-width="2" stroke-linejoin="round"/>
<polyline points="26.5,458.0 27.4,457.4 31.2,456.9 34.9,453.6 37.1,458.0" fill="none" stroke="#0a640a" stroke-width="2" stroke-linejoin="round"/>
<polyline points="37.1,458.0 38.6,461.1 42.4,459.9 43.8,458.0" fill="none" stroke="#f00" stroke-width="2" stroke-linejoin="round"/>
<polyline points="43.8,458.0 46.1,454.9 49.9,454.4 53.6,454.4 58.6,455.4 62.3,455.4 66.8,450.4 71.0,449.9 74.8,452.4 79.8,451.9 83.5,451.2 86.0,450.7 89.7,452.4 94.2,449.9 98.5,451.2 102.2,451.2 107.2,450.9 109.7,452.9 113.4,454.4 118.4,454.9 122.1,455.6 125.9,456.9 129.6,456.1 134.6,457.4 135.1,458.0" fill="none" stroke="#0a640a" stroke-width="2" stroke-linejoin="round"/>
<polyline points="135.1,458.0 139.1,462.9 144.6,462.9 149.6,461.9 153.3,462.9 158.3,465.4 162.0,464.4 173.5,458.0" fill="none" stroke="#f00" stroke-width="2" stroke-linejoin="round"/>
<polyline points="173.5,458.0 166.5,461.9 169.5,459.9 173.2,457.4 175.7,458.6 179.5,461.9 183.2,457.4 186.4,456.9 188.9,461.1 187.8,458.0" fill="none" stroke="#0a640a" stroke-width="2" stroke-linejoin="round"/>
<polyline points="187.8,458.0 190.7,466.1 196.9,466.1 199.4,464.9 203.1,467.4 208.1,467.9 214.4,468.6 219.3,471.1 224.3,471.8 229.3,471.1 231.8,469.9 235.5,472.3 239.3,475.3 242.5,472.3 252.5,471.1 255.0,471.8 271.2,471.8 276.1,474.8 282.4,476.1 287.4,471.8 298.6,471.3 302.3,468.6 305.3,463.6 308.5,459.4 323.5,459.1 323.8,458.0" fill="none" stroke="#f00" stroke-width="2" stroke-linejoin="round"/>
<polyline points="323.8,458.0 324.7,454.9 327.2,450.4 331.0,449.4 334.7,445.7 339.7,446.9 347.2,446.9 353.4,450.4 358.4,451.2 364.6,447.9 384.6,447.9 390.8,444.2 394.5,446.7 404.5,446.7 408.2,442.4 414.5,441.7 419.0,441.2 423.2,444.9 426.9,441.2 431.9,436.2 439.4,435.5 448.1,435.0 453.1,432.5 456.8,433.2 459.3,435.5 465.6,436.2 474.3,436.7 479.3,434.2 480.0,433.0 483.7,431.7 487.0,431.7 491.2,435.5 496.2,436.9 514.9,436.9 519.4,435.0 523.6,438.7 529.9,440.4 534.8,440.7 539.8,445.7 546.1,445.7 551.0,449.2 557.3,444.4 564.7,443.7 568.5,441.9 579.7,442.4 584.7,437.9 590.9,436.9 598.4,438.7 602.1,439.9 608.4,438.7 614.6,441.2 622.1,438.9 628.3,438.9 632.0,441.2 642.0,441.2 647.0,442.4 652.0,441.2 655.7,439.9 659.5,436.7 663.2,438.7 666.9,442.9 671.9,438.7 676.9,439.9 679.4,441.2 683.1,440.4 686.9,439.4 690.6,444.9 694.4,451.2 699.3,450.4 704.5,449.6 709.0,452.9 722.5,452.9 727.0,454.1 732.3,457.4 737.7,457.4 742.2,453.8 754.8,453.4 759.3,450.9 763.2,449.6" fill="none" stroke="#0a640a" stroke-width="2" stroke-linejoin="round"/>
<polyline points="2.5,447.0 25.0,450.4 50.0,452.4 75.0,452.4 100.0,452.0 125.0,454.4 150.0,457.0 162.0,458.0 175.0,459.4 200.0,461.0 224.0,464.4 240.0,466.1 257.4,467.4 277.4,470.3 289.9,470.6 312.3,469.1 334.7,463.6 347.2,459.9 357.2,457.9 389.6,452.4 414.5,448.7 429.4,447.4 456.8,441.9 474.3,439.9 487.5,437.9 517.4,437.9 542.3,440.4 562.3,441.9 579.7,441.2 604.6,439.9 654.5,439.9 691.9,440.4 705.4,442.5 727.0,446.6 745.0,449.3 754.0,450.5 762.0,450.5" fill="none" stroke="#0000ff" stroke-width="1"/>
</g>
<text x="6.25" y="435.00" font-size="8.6" fill="#000" stroke="#000" stroke-width="0.18" textLength="173.8" lengthAdjust="spacingAndGlyphs">RSI (H4,50,Close,50,50) 55.0823 54.8080</text>
<text x="6.00" y="490.60" font-size="10.0" fill="#000" stroke="#000" stroke-width="0.18" textLength="239.5" lengthAdjust="spacingAndGlyphs">ACFX, © 2001-2012, MetaQuotes Software Corp.</text>
<text x="968.60" y="431.60" font-size="8.6" fill="#000" stroke="#000" stroke-width="0.18">70</text>
<text x="968.60" y="491.80" font-size="8.6" fill="#000" stroke="#000" stroke-width="0.18">30</text>
<rect x="968.2" y="452.5" width="9.8" height="10.5" fill="#000"/>
<text x="968.60" y="461.20" font-size="8.6" fill="#fff" stroke="#fff" stroke-width="0.18">50</text>
<path d="M965.5 495.5h2.5" stroke="#000"/>
<path d="M3.3 495.5v4" stroke="#000"/>
<text x="3.00" y="507.70" font-size="8.6" fill="#000" stroke="#000" stroke-width="0.18" textLength="49.3" lengthAdjust="spacingAndGlyphs">26 Oct 2012</text>
<path d="M67.3 495.5v4" stroke="#000"/>
<text x="66.53" y="507.70" font-size="8.6" fill="#000" stroke="#000" stroke-width="0.18" textLength="53.2" lengthAdjust="spacingAndGlyphs">31 Oct 08:00</text>
<path d="M131.4 495.5v4" stroke="#000"/>
<text x="130.56" y="507.70" font-size="8.6" fill="#000" stroke="#000" stroke-width="0.18" textLength="51.6" lengthAdjust="spacingAndGlyphs">5 Nov 00:00</text>
<path d="M195.4 495.5v4" stroke="#000"/>
<text x="194.59" y="507.70" font-size="8.6" fill="#000" stroke="#000" stroke-width="0.18" textLength="50.6" lengthAdjust="spacingAndGlyphs">7 Nov 16:00</text>
<path d="M259.4 495.5v4" stroke="#000"/>
<text x="258.62" y="507.70" font-size="8.6" fill="#000" stroke="#000" stroke-width="0.18" textLength="55.0" lengthAdjust="spacingAndGlyphs">12 Nov 08:00</text>
<path d="M323.4 495.5v4" stroke="#000"/>
<text x="322.65" y="507.70" font-size="8.6" fill="#000" stroke="#000" stroke-width="0.18" textLength="55.0" lengthAdjust="spacingAndGlyphs">15 Nov 00:00</text>
<path d="M387.5 495.5v4" stroke="#000"/>
<text x="386.68" y="507.70" font-size="8.6" fill="#000" stroke="#000" stroke-width="0.18" textLength="55.0" lengthAdjust="spacingAndGlyphs">19 Nov 16:00</text>
<path d="M451.5 495.5v4" stroke="#000"/>
<text x="450.71" y="507.70" font-size="8.6" fill="#000" stroke="#000" stroke-width="0.18" textLength="55.0" lengthAdjust="spacingAndGlyphs">22 Nov 08:00</text>
<path d="M515.5 495.5v4" stroke="#000"/>
<text x="514.74" y="507.70" font-size="8.6" fill="#000" stroke="#000" stroke-width="0.18" textLength="55.0" lengthAdjust="spacingAndGlyphs">27 Nov 00:00</text>
<path d="M579.6 495.5v4" stroke="#000"/>
<text x="578.77" y="507.70" font-size="8.6" fill="#000" stroke="#000" stroke-width="0.18" textLength="55.0" lengthAdjust="spacingAndGlyphs">29 Nov 20:00</text>
<path d="M643.6 495.5v4" stroke="#000"/>
<text x="642.80" y="507.70" font-size="8.6" fill="#000" stroke="#000" stroke-width="0.18" textLength="49.0" lengthAdjust="spacingAndGlyphs">4 Dec 12:00</text>
<path d="M707.6 495.5v4" stroke="#000"/>
<text x="706.83" y="507.70" font-size="8.6" fill="#000" stroke="#000" stroke-width="0.18" textLength="49.8" lengthAdjust="spacingAndGlyphs">7 Dec 04:00</text>
</svg></body></html>
